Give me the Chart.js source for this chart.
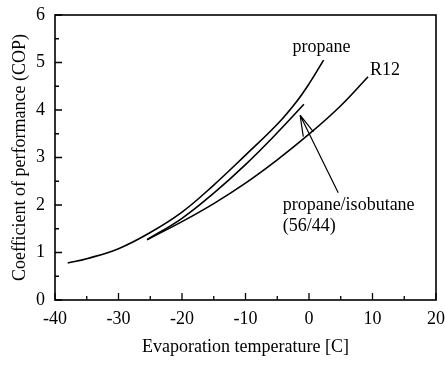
<!DOCTYPE html>
<html>
<head>
<meta charset="utf-8">
<script src="https://cdn.jsdelivr.net/npm/chart.js@4"></script>
<style>
html, body { margin: 0; padding: 0; background: #fff; }
</style>
</head>
<body>
<canvas id="grafico" width="445" height="365"></canvas>
<script>
// COP x temperatura de evaporação
const tempPropano = [-38, -35, -30, -25, -20, -15, -10, -5, -2, 0, 2.3]
const copPropano  = [0.78, 0.87, 1.08, 1.42, 1.85, 2.42, 3.05, 3.7, 4.17, 4.55, 5.05]

const tempMistura = [-25.5, -20, -15, -10, -5, -0.8]
const copMistura  = [1.27, 1.72, 2.25, 2.85, 3.52, 4.12]

const tempR12 = [-25.5, -20, -15, -10, -5, 0, 5, 9.3]
const copR12  = [1.27, 1.65, 2.03, 2.46, 2.95, 3.49, 4.09, 4.7]

const xMin = -40, xMax = 20, xStep = 10
const yMin = 0, yMax = 6, yStep = 1

const fonte = '"Liberation Serif", "Times New Roman", serif'

// textos dentro do gráfico (posição em coordenadas dos eixos)
const textos = [
    { text: 'propane', x: -2.6, y: 5.22 },
    { text: 'R12', x: 9.6, y: 4.74 },
    { text: 'propane/isobutane', x: -4.15, y: 1.89 },
    { text: '(56/44)', x: -4.15, y: 1.45 }
]
// seta apontando a curva da mistura
const seta = { de: [4.6, 2.26], ponta: [-1.4, 3.89], farpas: [[0.7, 3.54], [-0.9, 3.44]] }

function pontos(xs, ys) {
    return xs.map((v, i) => ({ x: v, y: ys[i] }))
}

const serie = (label, xs, ys) => ({
    label,
    data: pontos(xs, ys),
    showLine: true,
    borderColor: '#000',
    borderWidth: 1.6,
    pointRadius: 0,
    fill: false,
    tension: 0.4
})

const moldura = {
    id: 'moldura',
    afterDraw(chart) {
        const { ctx, chartArea: a, scales: { x, y } } = chart
        ctx.save()
        ctx.strokeStyle = '#000'
        ctx.lineWidth = 1.6
        ctx.strokeRect(a.left, a.top, a.right - a.left, a.bottom - a.top)

        ctx.lineWidth = 1.3
        ctx.beginPath()
        for (let v = xMin; v <= xMax; v += xStep / 2) {
            const px = x.getPixelForValue(v)
            const len = v % xStep === 0 ? 7 : 4
            ctx.moveTo(px, a.bottom)
            ctx.lineTo(px, a.bottom - len)
        }
        for (let v = yMin; v <= yMax; v += yStep / 2) {
            const py = y.getPixelForValue(v)
            const len = v % yStep === 0 ? 7 : 4
            ctx.moveTo(a.left, py)
            ctx.lineTo(a.left + len, py)
        }
        ctx.stroke()

        // seta
        ctx.lineWidth = 1.2
        const P = p => [x.getPixelForValue(p[0]), y.getPixelForValue(p[1])]
        const [x0, y0] = P(seta.de)
        const [x1, y1] = P(seta.ponta)
        ctx.beginPath()
        ctx.moveTo(x0, y0)
        ctx.lineTo(x1, y1)
        seta.farpas.forEach(f => {
            const [fx, fy] = P(f)
            ctx.moveTo(x1, y1)
            ctx.lineTo(fx, fy)
        })
        ctx.stroke()

        ctx.fillStyle = '#000'
        ctx.font = '18px ' + fonte
        ctx.textAlign = 'left'
        ctx.textBaseline = 'alphabetic'
        textos.forEach(t => {
            ctx.fillText(t.text, x.getPixelForValue(t.x), y.getPixelForValue(t.y))
        })
        ctx.restore()
    }
}

const config = {
    type: 'scatter',
    data: {
        datasets: [
            serie('propane', tempPropano, copPropano),
            serie('propane/isobutane (56/44)', tempMistura, copMistura),
            serie('R12', tempR12, copR12)
        ]
    },
    options: {
        responsive: false,
        devicePixelRatio: 1,
        animation: false,
        layout: { padding: { top: 15, right: 9, left: 0, bottom: 0 } },
        plugins: { legend: { display: false }, tooltip: { enabled: false } },
        scales: {
            x: {
                type: 'linear',
                min: xMin, max: xMax,
                grid: { display: false, drawTicks: false },
                border: { display: false },
                ticks: { stepSize: xStep, padding: 8, color: '#000', font: { family: fonte, size: 18 } },
                title: { display: true, text: 'Evaporation temperature [C]', color: '#000',
                         font: { family: fonte, size: 18 }, padding: { top: 0, bottom: 7 } },
                afterFit(s) { s.height = 65; s.paddingLeft = 0; s.paddingRight = 0 }
            },
            y: {
                type: 'linear',
                min: yMin, max: yMax,
                grid: { display: false, drawTicks: false },
                border: { display: false },
                ticks: { stepSize: yStep, padding: 10, color: '#000', font: { family: fonte, size: 18 } },
                title: { display: true, text: 'Coefficient of performance (COP)', color: '#000',
                         font: { family: fonte, size: 18 }, padding: { top: 9, bottom: 0 } },
                afterFit(s) { s.width = 55; s.paddingTop = 0; s.paddingBottom = 0 }
            }
        }
    },
    plugins: [moldura]
}

const meuGrafico = new Chart(document.getElementById('grafico').getContext('2d'), config)
</script>
</body>
</html>
